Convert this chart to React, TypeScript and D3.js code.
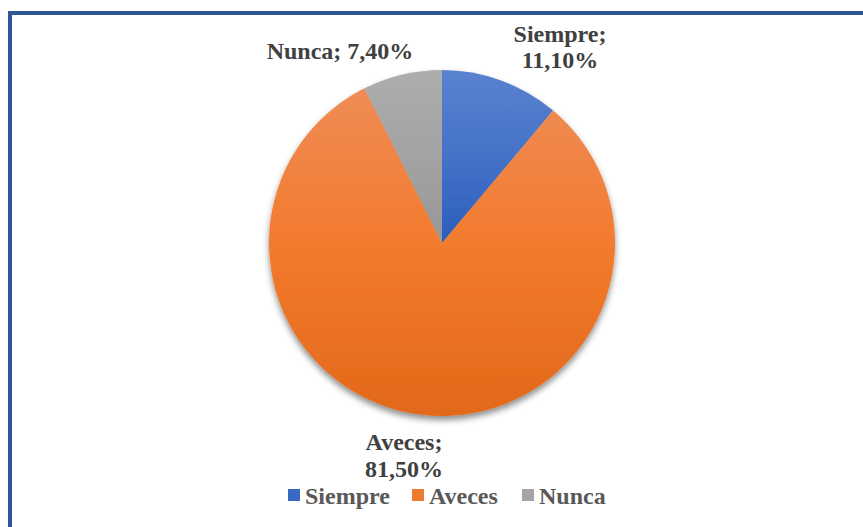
import React from "react";
import * as d3 from "d3";

const categories = ["Siempre", "Aveces", "Nunca"];
const values = [11.1, 81.5, 7.4];
const valueLabels = ["11,10%", "81,50%", "7,40%"];

const W = 863;
const H = 527;
const cx = 442;
const cy = 243;
const R = 173;

const gradTop = ["#5a82cf", "#ef8c56", "#adadad"];
const gradMid = ["#4572c8", "#f27a2c", "#a3a3a3"];
const gradBot = ["#2c5dbc", "#e2681a", "#979797"];
const legendColors = ["#3a69c4", "#ee7a2e", "#a5a5a5"];

export default function App() {
  const pie = d3.pie<number>().sort(null).value((d) => d);
  const arcs = pie(values);
  const arc = d3.arc<d3.PieArcDatum<number>>().innerRadius(0).outerRadius(R);
  const font = "'Liberation Serif', 'Times New Roman', serif";
  const textColor = "#404040";

  const legendX = [288, 412, 522];

  return (
    <svg width={W} height={H} style={{ position: "absolute", left: 0, top: 0 }}>
      <defs>
        {categories.map((c, i) => (
          <linearGradient key={c} id={`g${i}`} x1={0} y1={0} x2={0} y2={1}>
            <stop offset="0" stopColor={gradTop[i]} />
            <stop offset="0.5" stopColor={gradMid[i]} />
            <stop offset="1" stopColor={gradBot[i]} />
          </linearGradient>
        ))}
        <filter id="sh" x="-20%" y="-20%" width="140%" height="140%">
          <feDropShadow dx={0} dy={4} stdDeviation={3} floodColor="#000" floodOpacity={0.45} />
        </filter>
      </defs>
      <rect x={0} y={0} width={W} height={H} fill="#fff" />
      <path d={`M10,${H} L10,13 L${W},13`} fill="none" stroke="#2f5597" strokeWidth={4} />
      <g transform={`translate(${cx},${cy})`} filter="url(#sh)">
        {arcs.map((a, i) => (
          <path key={i} d={arc(a) || ""} fill={`url(#g${i})`} />
        ))}
      </g>
      <g fontFamily={font} fontWeight="bold" fontSize={24} fill={textColor} textAnchor="middle">
        <text x={560} y={42}>{categories[0] + ";"}</text>
        <text x={560} y={68}>{valueLabels[0]}</text>
        <text x={404} y={450}>{categories[1] + ";"}</text>
        <text x={404} y={477}>{valueLabels[1]}</text>
        <text x={340} y={59}>{categories[2] + "; " + valueLabels[2]}</text>
      </g>
      <g fontFamily={font} fontWeight="bold" fontSize={24} fill="#595959">
        {categories.map((c, i) => (
          <g key={c}>
            <rect x={legendX[i]} y={489} width={12} height={12} fill={legendColors[i]} />
            <text x={legendX[i] + 17} y={504}>{c}</text>
          </g>
        ))}
      </g>
    </svg>
  );
}
